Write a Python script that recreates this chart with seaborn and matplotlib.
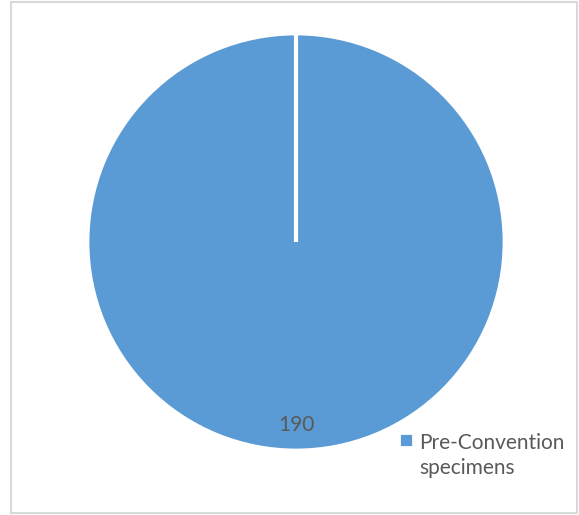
import matplotlib
matplotlib.use("Agg")
import numpy as np
import matplotlib.pyplot as plt
from matplotlib.patches import Rectangle
import seaborn as sns

# data
categories = ["Pre-Convention\nspecimens"]
values = [190]
colors = ["#5b9bd5"]

sns.set_theme(style="white")
plt.rcParams['font.family'] = ['Lato', 'DejaVu Sans']

fig = plt.figure(figsize=(5.79, 5.15), dpi=100)
ax = fig.add_axes([0.152, 0.1262, 0.7185, 0.8078])

wedges, texts, autotexts = ax.pie(
    values, colors=colors, startangle=90, counterclock=False,
    autopct=lambda p: f"{p * sum(values) / 100:.0f}", pctdistance=0.88,
    wedgeprops=dict(edgecolor="white", linewidth=2),
    textprops=dict(color="#595959", fontsize=15))
ax.set_xlim(-1, 1)
ax.set_ylim(-1, 1)
ax.set_aspect("equal")

# a full-circle wedge has no radial edge, so draw the slice boundary
for w in wedges:
    cx, cy = w.center
    th = np.deg2rad(w.theta2)
    ax.plot([cx, cx + w.r * np.cos(th)], [cy, cy + w.r * np.sin(th)],
            color="white", linewidth=3, solid_capstyle="butt")

leg = ax.legend(wedges, categories, loc="upper left",
                bbox_to_anchor=(0.656, 0.196), bbox_transform=fig.transFigure,
                frameon=False, fontsize=15, labelcolor="#595959",
                handlelength=0.7, handleheight=0.7, handletextpad=0.3)
for t in leg.get_texts():
    t.set_linespacing(1.35)
# put the marker next to the first line of the label
for col in leg._legend_handle_box.get_children():
    for row in col.get_children():
        row.align = "top"

# chart border
fig.patches.append(Rectangle((11 / 579, 2 / 515), 566 / 579, 511 / 515,
                             transform=fig.transFigure, fill=False,
                             edgecolor="#d9d9d9", linewidth=1.5))

fig.savefig("out.png", dpi=100)
